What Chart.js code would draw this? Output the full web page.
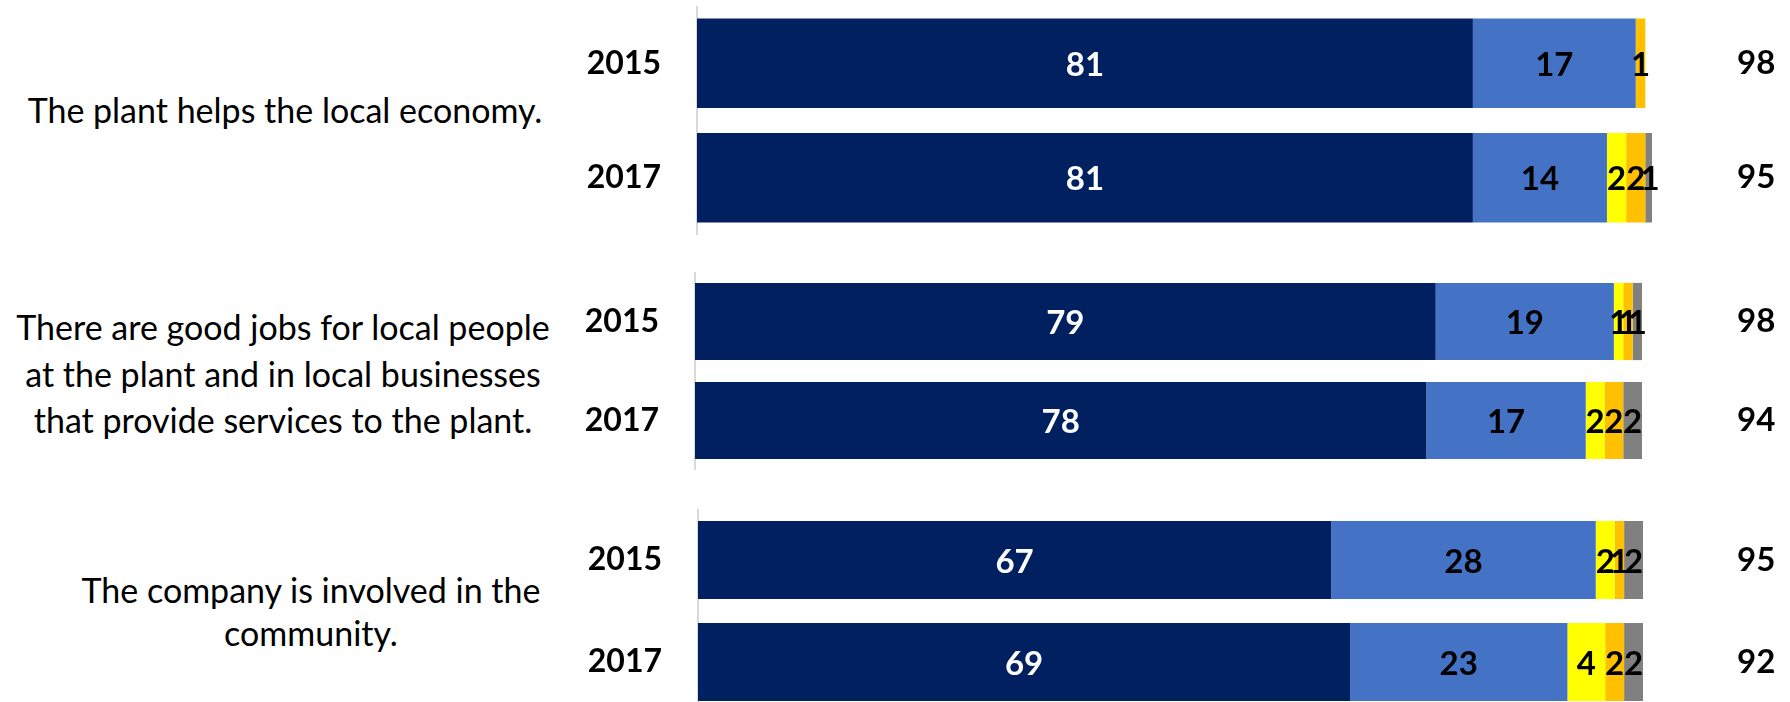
<!DOCTYPE html>
<html>
<head>
<meta charset="utf-8">
<script src="https://cdn.jsdelivr.net/npm/chart.js@4"></script>
<style>
  html, body { margin: 0; padding: 0; background: #fff; }
  body { width: 1790px; height: 702px; position: relative; overflow: hidden; font-family: Lato, sans-serif; }
  canvas { position: absolute; left: 560px; }
  .stmt { position: absolute; width: 640px; text-align: center; font-size: 34px; color: #000; white-space: nowrap; }
</style>
</head>
<body>
<script>
// statements (one entry per panel, split into lines as in the original)
const statements = [
  ['The plant helps the local economy.'],
  ['There are good jobs for local people', 'at the plant and in local businesses', 'that provide services to the plant.'],
  ['The company is involved in the', 'community.']
];
const years = ['2015', '2017'];

// six bars, top to bottom: plant/2015, plant/2017, jobs/2015, jobs/2017, community/2015, community/2017
const seriesNames = ['Strongly agree', 'Somewhat agree', 'Somewhat disagree', 'Strongly disagree', "Don't know"];
const strongAgree = [81, 81, 79, 78, 67, 69];
const someAgree   = [17, 14, 19, 17, 28, 23];
const someDisagr  = [0, 2, 1, 2, 2, 4];
const strongDisag = [1, 2, 1, 2, 1, 2];
const dontKnow    = [0, 1, 1, 2, 2, 2];
const totals      = [98, 95, 98, 94, 95, 92];

const seriesValues = [strongAgree, someAgree, someDisagr, strongDisag, dontKnow];
const colors = ['#002060', '#4472C4', '#FFFF00', '#FFC000', '#808080'];

// layout of each panel (pixels)
const panels = [
  { top: 6,   height: 229, axisX: 697, right: 1652, max: 99.7, bar: 0.78, textX: 285, textTop: 87,  lineH: 46 },
  { top: 272, height: 198, axisX: 695, right: 1642, max: 101, bar: 0.78, textX: 283, textTop: 304, lineH: 46.5 },
  { top: 509, height: 204, axisX: 698, right: 1643, max: 100, bar: 0.765, textX: 311, textTop: 568, lineH: 43 }
];

// value labels inside the segments
const valueLabels = {
  id: 'valueLabels',
  afterDatasetsDraw(chart) {
    const ctx = chart.ctx;
    ctx.save();
    ctx.font = 'bold 33px Lato';
    ctx.textAlign = 'center';
    ctx.textBaseline = 'middle';
    chart.data.datasets.forEach((ds, i) => {
      chart.getDatasetMeta(i).data.forEach((bar, j) => {
        const v = ds.data[j];
        if (!v) return;
        const c = bar.getCenterPoint();
        ctx.fillStyle = i === 0 ? '#fff' : '#000';
        ctx.fillText(v, c.x, c.y + 2);
      });
    });
    ctx.restore();
  }
};

panels.forEach((p, k) => {
  // statement text on the left
  const div = document.createElement('div');
  div.className = 'stmt';
  div.style.left = (p.textX - 320) + 'px';
  div.style.top = p.textTop + 'px';
  div.style.lineHeight = p.lineH + 'px';
  div.innerHTML = statements[k].join('<br>');
  document.body.appendChild(div);

  const canvas = document.createElement('canvas');
  canvas.width = 1790 - 560;
  canvas.height = p.height;
  canvas.style.top = p.top + 'px';
  document.body.appendChild(canvas);

  const idx = [k * 2, k * 2 + 1];

  new Chart(canvas.getContext('2d'), {
    type: 'bar',
    data: {
      labels: years,
      datasets: seriesNames.map((name, s) => ({
        label: name,
        data: idx.map(i => seriesValues[s][i]),
        backgroundColor: colors[s],
        borderWidth: 0,
        categoryPercentage: 1,
        barPercentage: p.bar
      }))
    },
    options: {
      indexAxis: 'y',
      responsive: false,
      animation: false,
      layout: { padding: 0 },
      plugins: { legend: { display: false }, tooltip: { enabled: false } },
      scales: {
        x: { stacked: true, display: false, min: 0, max: p.max },
        y: {
          stacked: true,
          position: 'left',
          grid: { display: false, drawTicks: false },
          border: { display: true, color: '#d9d9d9', width: 2 },
          ticks: { color: '#000', padding: 36, font: { family: 'Lato', size: 32, weight: 'bold' } },
          afterFit(s) { s.width = p.axisX - 560; s.paddingTop = 0; s.paddingBottom = 0; }
        },
        y2: {
          type: 'category',
          labels: idx.map(i => String(totals[i])),
          position: 'right',
          offset: true,
          grid: { display: false, drawTicks: false },
          border: { display: false },
          ticks: { color: '#000', padding: 1737 - p.right, font: { family: 'Lato', size: 33, weight: 'bold' } },
          afterFit(s) { s.width = 1790 - p.right; s.paddingTop = 0; s.paddingBottom = 0; }
        }
      }
    },
    plugins: [valueLabels]
  });
});
</script>
</body>
</html>
